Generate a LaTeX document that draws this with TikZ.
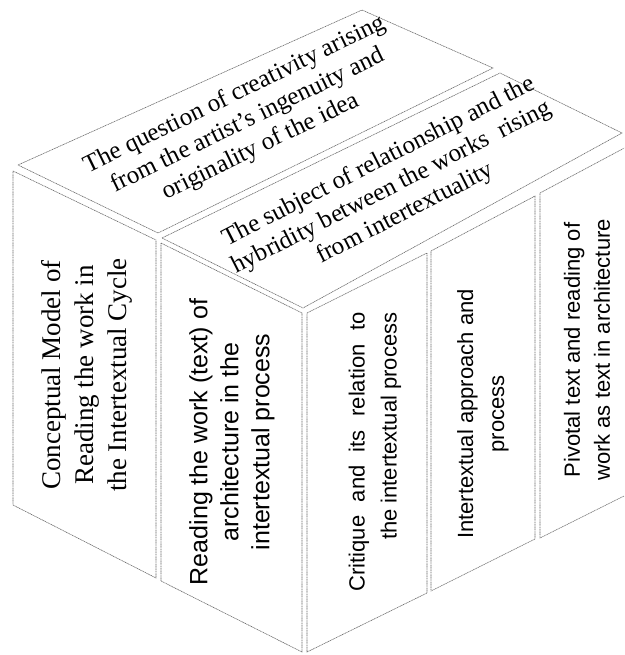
\documentclass[tikz,border=0pt]{standalone}
\usepackage{fontspec}
\setmainfont{Liberation Serif}
\setsansfont{Liberation Sans}
\usetikzlibrary{positioning}

\begin{document}
\begin{tikzpicture}[x=1pt, y=-1pt,
    panel/.style={draw=black!60, line width=0.6pt, dash pattern=on 1.1pt off 0.6pt},
    toptext/.style={font=\fontsize{25}{29}\selectfont, align=center, inner sep=0pt},
    sidetext/.style={font=\sffamily\fontsize{22}{31}\selectfont, align=center, inner sep=0pt, rotate=90}]
    \clip (0,0) rectangle (624,655);

    % top face
    \draw[panel] (18,165) -- (362,10) -- (493,68) -- (158,233) -- cycle;
    \draw[panel] (162,238) -- (500,73) -- (622,133) -- (303,308) -- cycle;
    \node[toptext, rotate=26] (creativity) at (248,121)
        {The question of creativity arising\\ from the artist's ingenuity and\\ originality of the idea};
    \node[toptext, rotate=27] (hybridity) at (392,188)
        {The subject of relationship and the\\ hybridity between the works~ rising\\ from intertextuality};

    % left face
    \draw[panel] (13,171) -- (156,240) -- (156,578) -- (13,505) -- cycle;
    \draw[panel] (161,243) -- (302,313) -- (302,652) -- (161,581) -- cycle;
    \node[rotate=90, align=center, inner sep=0pt, font=\fontsize{27}{33}\selectfont] (model) at (87,375)
        {Conceptual Model of\\ Reading the work in\\ the Intertextual Cycle};
    \node[sidetext, font=\sffamily\fontsize{25}{31}\selectfont] (reading) at (232,442)
        {Reading the work (text) of\\ architecture in the\\ intertextual process};

    % right face
    \draw[panel] (307,313) -- (427,253) -- (427,593) -- (307,652) -- cycle;
    \draw[panel] (431,251) -- (535,196) -- (535,539) -- (431,591) -- cycle;
    \draw[panel] (540,193) -- (660,129) -- (660,478) -- (540,538) -- cycle;
    \node[sidetext, align=right, font=\sffamily\fontsize{22}{32}\selectfont] (critique) at (375,452)
        {\makebox[279pt][s]{Critique and its relation to}\\ the intertextual process};
    \node[sidetext] (approach) at (483,414)
        {Intertextual approach and\\ process};
    \node[sidetext, font=\sffamily\fontsize{22}{30}\selectfont] (pivotal) at (587,350)
        {Pivotal text and reading of\\ work as text in architecture};
\end{tikzpicture}
\end{document}
